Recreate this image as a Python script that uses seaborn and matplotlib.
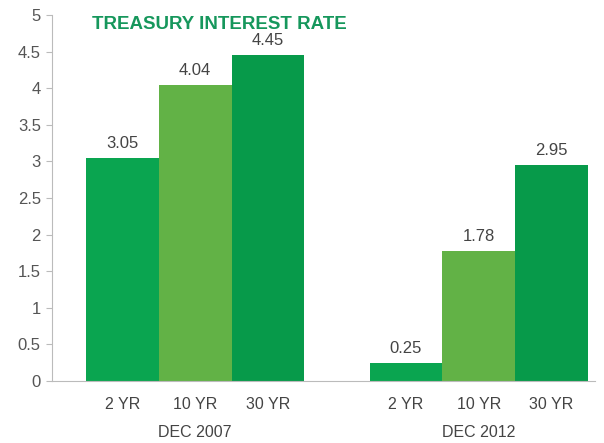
import matplotlib
matplotlib.use("Agg")
import matplotlib.pyplot as plt
import seaborn as sns
import pandas as pd
import matplotlib.transforms as mtrans

groups = ["DEC 2007", "DEC 2007", "DEC 2007", "DEC 2012", "DEC 2012", "DEC 2012"]
tenors = ["2 YR", "10 YR", "30 YR", "2 YR", "10 YR", "30 YR"]
rates = [3.05, 4.04, 4.45, 0.25, 1.78, 2.95]
yticks = [0, 0.5, 1, 1.5, 2, 2.5, 3, 3.5, 4, 4.5, 5]
ytick_labels = ["0", "0.5", "1", "1.5", "2", "2.5", "3", "3.5", "4", "4.5", "5"]
title = "TREASURY INTEREST RATE"

df = pd.DataFrame({"group": groups, "tenor": tenors, "rate": rates})
palette = {"2 YR": "#0aa550", "10 YR": "#62b246", "30 YR": "#079a4a"}

sns.set_style("white")
plt.rcParams["font.family"] = ["Liberation Sans", "DejaVu Sans"]

fig = plt.figure(figsize=(6.04, 4.43), dpi=100)
ax = fig.add_axes([0.086, 0.14, 0.899, 0.826])

sns.barplot(data=df, x="group", y="rate", hue="tenor", palette=palette,
            width=0.77, saturation=1, ax=ax, legend=False, errorbar=None,
            linewidth=0, edgecolor="none")

ax.set_ylim(0, 5)
ax.set_xlim(-0.505, 1.41)
ax.set_yticks(yticks)
ax.set_yticklabels(ytick_labels, fontsize=12, color="#555555")
ax.tick_params(axis="y", length=4, color="#bbbbbb", width=0.8, pad=4, left=True)
ax.tick_params(axis="x", length=0, pad=32, labelsize=11.5, labelcolor="#444444")
ax.set_xlabel("")
ax.set_ylabel("")

for s in ["top", "right"]:
    ax.spines[s].set_visible(False)
ax.spines["left"].set_color("#bbbbbb")
ax.spines["bottom"].set_color("#bbbbbb")
ax.spines["left"].set_linewidth(0.8)
ax.spines["bottom"].set_linewidth(0.8)

for cont in ax.containers:
    ax.bar_label(cont, fmt="%.2f", padding=5, fontsize=12, color="#444444")

trans = mtrans.blended_transform_factory(ax.transData, ax.transAxes)
bars = sorted([p for p in ax.patches if p.get_height() > 0], key=lambda p: p.get_x())
for p, t in zip(bars, tenors):
    ax.text(p.get_x() + p.get_width() / 2, -0.045, t, transform=trans,
            ha="center", va="top", fontsize=11.5, color="#444444")

ax.text(0.074, 0.998, title, transform=ax.transAxes, ha="left", va="top",
        fontsize=13.5, fontweight="bold", color="#16975c")

fig.savefig("out.png", dpi=100)
